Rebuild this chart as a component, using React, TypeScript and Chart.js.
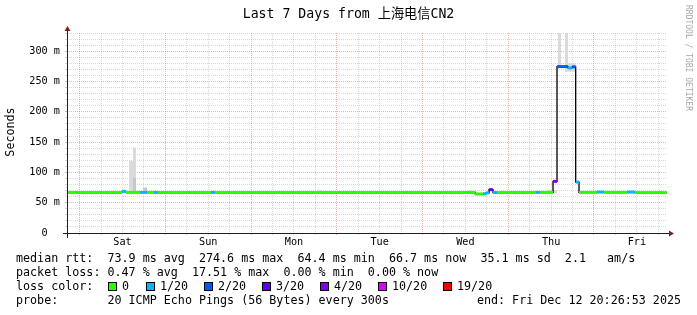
import React, { useEffect, useRef } from "react";
import { Chart, registerables } from "chart.js";

Chart.register(...registerables);

const W = 697;
const H = 315;
const MONO = "'DejaVu Sans Mono', 'Noto Sans CJK SC', monospace";

const titleText = "Last 7 Days from 上海电信CN2";
const yAxisTitle = "Seconds";
const watermarkText = "RRDTOOL / TOBI OETIKER";

// x values are hours since Fri 2025-12-05 00:00
const xMin = 20.448; // Fri Dec 5 20:26:53
const xMax = 188.448; // Fri Dec 12 20:26:53
const yMax = 330;

const dayLabels = ["Sat", "Sun", "Mon", "Tue", "Wed", "Thu", "Fri"];
const dayNoonHours = [36, 60, 84, 108, 132, 156, 180];

// median rtt runs (ms) with loss level index
const runStart = [20.448, 35.85, 36.97, 40.89, 42.85, 44.81, 45.93, 60.77, 61.89, 134.69, 136.93, 137.77, 138.61, 139.73, 140.85, 151.77, 152.89, 156.53, 157.65, 160.73, 161.85, 162.88, 163.81, 168.85, 170.81, 177.25, 179.49];
const runEnd = [35.85, 36.97, 40.89, 42.85, 44.81, 45.93, 60.77, 61.89, 134.69, 136.93, 137.77, 138.61, 139.73, 140.85, 151.77, 152.89, 156.53, 157.65, 160.73, 161.85, 162.88, 163.81, 168.85, 170.81, 177.25, 179.49, 188.448];
const runMedian = [67.0, 68.7, 67.0, 67.0, 67.0, 67.0, 67.0, 67.0, 67.0, 64.4, 64.8, 66.2, 71.5, 66.8, 67.0, 67.0, 67.0, 85.2, 274.6, 272.5, 274.2, 84.0, 67.0, 67.6, 67.0, 67.6, 66.7];
const runLoss = [0, 1, 0, 1, 0, 1, 0, 1, 0, 0, 1, 1, 3, 1, 0, 1, 0, 4, 2, 1, 2, 1, 0, 1, 0, 1, 0];

// smoke (ping spread), light layer
const smokeStart = [37.81, 38.93, 90.73, 132.73, 154.85, 157.93, 159.89, 160.73, 168.57];
const smokeEnd = [38.93, 39.77, 91.85, 134.97, 157.65, 158.77, 160.73, 162.88, 169.13];
const smokeLow = [66, 66, 66, 65, 66, 272, 266, 266, 66];
const smokeHigh = [119, 141, 71, 70.5, 71, 330, 330, 280, 70.5];
// smoke, dense core
const coreStart = [38.93, 41.73];
const coreEnd = [39.77, 42.85];
const coreLow = [66, 66];
const coreHigh = [91, 75];

const lossColors = ["#26ff00", "#00b8ff", "#0059ff", "#5e00ff", "#7e00ff", "#dd00ff", "#ff0000"];
const lossLabels = ["0", "1/20", "2/20", "3/20", "4/20", "10/20", "19/20"];

const medianStats = ["73.9 ms avg", "274.6 ms max", "64.4 ms min", "66.7 ms now", "35.1 ms sd", "2.1   am/s"];
const lossStats = ["0.47 % avg", "17.51 % max", "0.00 % min", "0.00 % now"];
const probeText = "20 ICMP Echo Pings (56 Bytes) every 300s";
const endText = "end: Fri Dec 12 20:26:53 2025";

// layout (pixels)
const legendBoxX = [108, 146, 204, 262, 320, 378, 443];
const legendLineY = [259, 273, 287, 301];

const GRID_MINOR = "rgba(140,140,140,0.35)";
const GRID_MAJOR = "rgba(222,79,79,0.45)";

function rangePoints(starts: number[], ends: number[], vals: number[]) {
  const pts: { x: number; y: number | null }[] = [];
  starts.forEach((s, i) => {
    pts.push({ x: s, y: vals[i] }, { x: ends[i], y: vals[i] }, { x: ends[i], y: null });
  });
  return pts;
}

const decor = {
  id: "decor",
  beforeDraw(chart: any) {
    const ctx = chart.ctx;
    ctx.save();
    ctx.fillStyle = "#ffffff";
    ctx.fillRect(0, 0, chart.width, chart.height);
    ctx.restore();
  },
  afterDatasetsDraw(chart: any) {
    const ctx = chart.ctx;
    const { left, right, top, bottom } = chart.chartArea;
    ctx.save();
    ctx.fillStyle = "#1f1f1f";
    ctx.fillRect(left - 4, bottom, right - left + 8, 1);
    ctx.fillRect(left, top - 4, 1, bottom - top + 9);
    ctx.fillStyle = "#801f1f";
    ctx.beginPath();
    ctx.moveTo(right + 2, bottom - 2.5);
    ctx.lineTo(right + 2, bottom + 3.5);
    ctx.lineTo(right + 7, bottom + 0.5);
    ctx.closePath();
    ctx.fill();
    ctx.beginPath();
    ctx.moveTo(left - 2.5, top - 2);
    ctx.lineTo(left + 3.5, top - 2);
    ctx.lineTo(left + 0.5, top - 7);
    ctx.closePath();
    ctx.fill();
    ctx.restore();
  },
  afterDraw(chart: any) {
    const ctx = chart.ctx;
    ctx.save();
    ctx.fillStyle = "#000";
    ctx.textBaseline = "middle";
    // title
    ctx.font = `13.2px ${MONO}`;
    ctx.textAlign = "center";
    ctx.fillText(titleText, W / 2, 14.5);
    // y title
    ctx.save();
    ctx.font = `11.7px ${MONO}`;
    ctx.translate(10.5, 132);
    ctx.rotate(-Math.PI / 2);
    ctx.textAlign = "center";
    ctx.fillText(yAxisTitle, 0, 0);
    ctx.restore();
    // watermark
    ctx.save();
    ctx.font = `8px ${MONO}`;
    ctx.fillStyle = "#a8a8a8";
    ctx.translate(688.5, 5);
    ctx.rotate(Math.PI / 2);
    ctx.textAlign = "left";
    ctx.fillText(watermarkText, 0, 0);
    ctx.restore();
    // legend
    ctx.font = `11.7px ${MONO}`;
    ctx.textAlign = "left";
    ctx.fillText("median rtt:  " + medianStats.join("  "), 16, legendLineY[0]);
    ctx.fillText("packet loss: " + lossStats.join("  "), 16, legendLineY[1]);
    ctx.fillText("loss color:", 16, legendLineY[2]);
    lossColors.forEach((c, i) => {
      const bx = legendBoxX[i];
      const by = legendLineY[2] - 5;
      ctx.fillStyle = c;
      ctx.fillRect(bx, by, 9, 9);
      ctx.strokeStyle = "#000";
      ctx.lineWidth = 1;
      ctx.strokeRect(bx + 0.5, by + 0.5, 8, 8);
      ctx.fillStyle = "#000";
      ctx.fillText(lossLabels[i], bx + 14, legendLineY[2]);
    });
    ctx.fillText("probe:       " + probeText, 16, legendLineY[3]);
    ctx.textAlign = "right";
    ctx.fillText(endText, W - 16, legendLineY[3]);
    ctx.restore();
  },
};

export default function App() {
  const ref = useRef<HTMLCanvasElement>(null);
  useEffect(() => {
    const canvas = ref.current;
    if (!canvas) return;

    const medianPts: { x: number; y: number }[] = [];
    runStart.forEach((s, i) => {
      medianPts.push({ x: s, y: runMedian[i] }, { x: runEnd[i], y: runMedian[i] });
    });
    const gridHours: number[] = [];
    for (let h = Math.ceil(xMin / 6) * 6; h < xMax; h += 6) gridHours.push(h);

    const common = { pointRadius: 0, pointHoverRadius: 0, tension: 0 };

    const chart = new Chart(canvas, {
      type: "line",
      data: {
        datasets: [
          {
            ...common,
            label: "median",
            data: rangePoints(runStart, runEnd, runMedian) as any,
            borderWidth: 3,
            borderColor: lossColors[0],
            borderCapStyle: "butt",
            spanGaps: false,
            fill: false,
            order: 0,
            segment: {
              borderColor: (c: any) => lossColors[runLoss[Math.floor(c.p0DataIndex / 3)]],
            },
          } as any,
          {
            ...common,
            label: "median line",
            data: medianPts as any,
            borderWidth: 1.3,
            borderColor: "#000000",
            fill: false,
            order: 1,
          },
          {
            ...common,
            label: "core hi",
            data: rangePoints(coreStart, coreEnd, coreHigh) as any,
            borderWidth: 0,
            borderColor: "rgba(0,0,0,0)",
            backgroundColor: "#c6c6c6",
            fill: "+1",
            spanGaps: false,
            order: 2,
          },
          {
            ...common,
            label: "core lo",
            data: rangePoints(coreStart, coreEnd, coreLow) as any,
            borderWidth: 0,
            borderColor: "rgba(0,0,0,0)",
            fill: false,
            spanGaps: false,
            order: 3,
          },
          {
            ...common,
            label: "smoke hi",
            data: rangePoints(smokeStart, smokeEnd, smokeHigh) as any,
            borderWidth: 0,
            borderColor: "rgba(0,0,0,0)",
            backgroundColor: "#dadada",
            fill: "+1",
            spanGaps: false,
            order: 4,
          },
          {
            ...common,
            label: "smoke lo",
            data: rangePoints(smokeStart, smokeEnd, smokeLow) as any,
            borderWidth: 0,
            borderColor: "rgba(0,0,0,0)",
            fill: false,
            spanGaps: false,
            order: 5,
          },
        ],
      },
      options: {
        responsive: false,
        maintainAspectRatio: false,
        animation: false,
        events: [],
        layout: { padding: { top: 33, right: 30, bottom: 0, left: 0 } },
        plugins: {
          legend: { display: false },
          tooltip: { enabled: false },
          title: { display: false },
        },
        scales: {
          x: {
            type: "linear",
            min: xMin,
            max: xMax,
            afterBuildTicks: (s: any) => {
              s.ticks = gridHours.map((v) => ({ value: v }));
            },
            afterFit: (s: any) => {
              s.height = 82;
            },
            grid: {
              color: (c: any) => (c.tick && c.tick.value % 24 === 0 ? GRID_MAJOR : GRID_MINOR),
              tickColor: (c: any) => (c.tick && c.tick.value % 24 === 0 ? GRID_MAJOR : GRID_MINOR),
              lineWidth: 1,
              drawTicks: true,
              tickLength: 2,
            },
            border: { display: false, dash: [1, 1] },
            ticks: {
              autoSkip: false,
              maxRotation: 0,
              minRotation: 0,
              padding: 1,
              color: "#000",
              font: { family: MONO, size: 10.2 },
              callback: (v: any) => {
                const i = dayNoonHours.indexOf(Number(v));
                return i >= 0 ? dayLabels[i] : "";
              },
            },
          },
          y: {
            type: "linear",
            min: 0,
            max: yMax,
            afterFit: (s: any) => {
              s.width = 67;
            },
            grid: {
              color: (c: any) => (c.tick && c.tick.value % 50 === 0 ? GRID_MAJOR : GRID_MINOR),
              tickColor: (c: any) => (c.tick && c.tick.value % 50 === 0 ? GRID_MAJOR : GRID_MINOR),
              lineWidth: 1,
              drawTicks: true,
              tickLength: 2,
            },
            border: { display: false, dash: [1, 1] },
            ticks: {
              stepSize: 10,
              autoSkip: false,
              padding: 5,
              color: "#000",
              font: { family: MONO, size: 10.2 },
              callback: (v: any) => {
                const n = Number(v);
                if (n % 50 !== 0) return "";
                return n === 0 ? "0  " : `${n} m`;
              },
            },
          },
        },
      } as any,
      plugins: [decor],
    });
    return () => chart.destroy();
  }, []);

  return (
    <div style={{ position: "fixed", left: 0, top: 0, width: W, height: H, background: "#fff" }}>
      <canvas ref={ref} width={W} height={H} style={{ display: "block", width: W, height: H }} />
    </div>
  );
}
